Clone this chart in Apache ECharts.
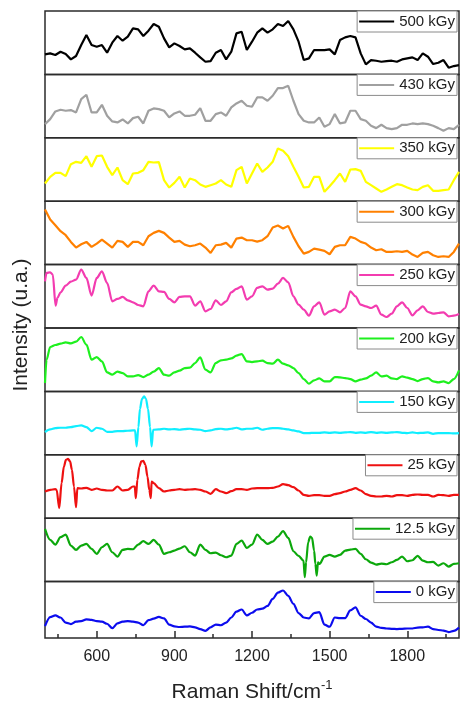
<!DOCTYPE html>
<html>
<head>
<meta charset="utf-8">
<script src="https://cdn.jsdelivr.net/npm/echarts@6/dist/echarts.min.js"></script>
<style>
  html, body { margin: 0; padding: 0; background: #fff; }
  #chart { width: 460px; height: 705px; }
</style>
</head>
<body>
<div id="chart"></div>
<script>
// Raman shift grid (cm-1)
const shift = [400,420,440,460,480,500,520,540,560,580,600,620,640,660,680,700,720,740,760,780,800,820,840,860,880,900,920,940,960,980,1000,1020,1040,1060,1080,1100,1120,1140,1160,1180,1200,1220,1240,1260,1280,1300,1320,1340,1360,1380,1400,1420,1440,1460,1480,1500,1520,1540,1560,1580,1600,1620,1640,1660,1680,1700,1720,1740,1760,1780,1800,1820,1840,1860,1880,1900,1920,1940,1960,1980,2000];

const labels = ['500 kGy', '430 kGy', '350 kGy', '300 kGy', '250 kGy', '200 kGy', '150 kGy', '25 kGy', '12.5 kGy', '0 kGy'];
const colors = ['#000000', '#a0a0a0', '#ffff00', '#ff8000', '#f33cb0', '#1ef01e', '#10eeff', '#ee1111', '#0ca80c', '#0c0cee'];

// intensities (arbitrary units, 0..190 per panel)
const s500 = [60,63,58,68,61,45,55,88,118,88,83,88,65,95,115,101,113,138,135,115,131,151,143,108,81,93,85,75,78,65,51,38,40,65,73,45,68,123,128,73,98,125,138,125,135,151,145,160,135,98,43,48,73,73,73,75,60,103,111,115,111,63,30,43,41,38,40,41,38,45,48,51,43,63,53,31,35,43,20,25,28];
const s430 = [41,56,79,84,81,83,76,116,129,76,76,99,66,49,46,55,43,59,63,43,81,88,86,81,61,73,79,66,66,69,89,51,51,71,76,66,91,103,111,96,93,121,121,111,126,149,149,156,111,71,51,46,46,61,33,41,71,43,46,81,81,56,51,36,29,39,29,26,29,39,39,43,41,43,41,36,29,21,29,26,39];
const s350 = [53,73,85,85,75,111,118,115,135,103,135,137,103,78,101,63,51,83,85,93,118,116,117,63,41,55,73,41,68,63,50,43,48,53,63,50,43,93,103,53,83,113,88,101,118,158,151,135,103,73,41,43,73,73,28,45,63,83,58,95,96,91,58,48,38,28,35,43,51,48,41,35,33,43,48,31,31,33,35,63,88];
const s300 = [165,135,118,100,88,68,51,61,68,53,63,75,63,51,71,68,53,68,68,58,85,95,101,95,81,68,71,60,55,58,63,51,35,58,60,65,51,78,81,73,73,69,73,85,111,117,108,116,83,55,33,38,48,45,41,31,53,58,58,83,78,68,63,51,43,46,38,38,40,38,41,30,23,35,38,28,23,25,23,38,63];
const s250 = [140,167,70,107,127,139,145,175,150,97,150,170,135,80,87,93,83,77,69,65,110,127,110,108,87,77,93,95,95,67,80,50,57,83,69,80,107,117,125,85,95,120,125,115,118,133,150,137,95,70,55,37,65,77,40,50,55,47,60,110,95,70,65,60,67,40,33,43,65,77,60,38,53,65,48,43,45,47,35,37,42];
const s200 = [25,133,139,143,147,144,149,163,140,95,103,90,57,50,59,55,45,45,49,43,50,59,70,50,47,57,62,70,71,85,102,65,57,85,93,95,99,107,112,90,88,90,92,85,83,95,83,78,70,55,37,23,33,39,30,30,43,42,40,37,30,35,39,47,57,45,47,39,37,45,41,37,31,37,40,30,27,30,25,37,63];
const s150 = [68,76,80,81,81,83,86,88,83,71,81,78,69,69,71,71,72,73,73,73,73,75,76,78,76,77,75,77,78,76,75,71,73,77,78,76,78,81,76,78,78,81,75,78,80,80,78,76,73,70,65,65,66,66,67,66,67,66,67,68,66,67,66,68,66,67,66,67,68,66,65,67,65,66,67,63,65,65,65,64,65];
const s25 = [80,85,87,85,85,85,85,89,91,85,89,85,83,83,95,83,85,95,90,90,90,105,90,80,83,85,87,85,86,87,85,80,73,87,80,75,81,87,87,85,89,90,90,90,91,95,102,99,93,83,70,67,69,69,67,67,72,75,80,85,90,83,72,67,65,65,67,65,69,69,67,70,71,70,70,65,70,69,67,70,70];
const s12 = [158,125,111,133,141,108,95,108,113,98,83,103,113,88,75,95,98,97,111,121,113,125,111,83,88,93,99,106,88,78,111,95,85,87,79,73,78,113,123,101,111,141,125,113,120,135,151,131,91,77,63,63,63,63,75,80,75,80,93,96,98,83,67,57,51,54,52,58,65,75,61,64,77,63,58,59,48,55,45,53,55];
const s0 = [40,70,76,69,52,47,55,57,63,61,57,55,48,33,49,55,57,55,52,43,60,65,71,66,45,39,37,38,39,36,30,24,36,45,43,52,69,89,96,76,85,96,99,108,132,153,160,142,115,84,69,66,84,87,45,38,69,67,67,93,103,75,64,52,38,34,32,31,30,31,32,32,35,36,38,30,27,25,20,24,35];

// sharp features sampled more densely: [shift, intensity]
const dip250 = [[406,165],[420,167],[430,160],[441,67],[448,90]];
const rise200 = [[406,95]];
const spike150 = [[748,73],[754,25],[761,83],[767,138],[775,168],[783,175],[790,168],[798,138],[806,83],[812,25],[818,75]];
const spike25a = [[445,85],[455,30],[464,105],[473,155],[481,175],[489,178],[497,170],[504,145],[512,95],[520,33],[525,90]];
const spike25b = [[747,95],[751,60],[757,115],[765,155],[772,170],[780,172],[788,160],[796,125],[803,85],[809,60],[812,110]];
const spike12 = [[1399,63],[1404,13],[1409,58],[1417,118],[1425,135],[1432,131],[1440,93],[1445,53],[1450,18],[1455,58],[1461,53]];

const majorTicks = [600, 900, 1200, 1500, 1800];
const minorTicks = [450, 750, 1050, 1350, 1650, 1950];

function build(values, inserts) {
  let d = shift.map((x, i) => [x, values[i]]);
  (inserts || []).forEach(ins => {
    const lo = ins[0][0], hi = ins[ins.length - 1][0];
    d = d.filter(p => p[0] < lo || p[0] > hi).concat(ins);
  });
  return d.sort((a, b) => a[0] - b[0]);
}

const panels = [
  { v: s500 }, { v: s430 }, { v: s350 }, { v: s300 },
  { v: s250, ins: [dip250], smooth: true },
  { v: s200, ins: [rise200], smooth: true },
  { v: s150, ins: [spike150], smooth: true },
  { v: s25, ins: [spike25a, spike25b], smooth: true },
  { v: s12, ins: [spike12], smooth: true },
  { v: s0, smooth: true }
];

const FONT = 'Liberation Sans, Arial, Helvetica, sans-serif';
const TOP = 11, PH = 63.4, LEFT = 45, RIGHT = 1;
const frame = '#2b2b2b';

const grids = [], xAxes = [], yAxes = [], series = [], legends = [];
panels.forEach((p, i) => {
  const top = TOP + i * PH;
  const last = i === panels.length - 1;
  grids.push({ left: LEFT, right: RIGHT, top: top, height: PH, show: true, borderColor: frame, borderWidth: 1.5 });
  xAxes.push({
    gridIndex: i, type: 'value', min: 400, max: 2000,
    axisLine: { show: false },
    splitLine: { show: false },
    axisTick: last ? { show: true, inside: true, length: 7, customValues: majorTicks, lineStyle: { color: frame, width: 1.5 } } : { show: false },
    axisLabel: last ? { show: true, customValues: majorTicks, formatter: v => String(v), fontSize: 16, color: '#222', fontFamily: FONT, margin: 11 } : { show: false },
    name: last ? '{a|Raman Shift/cm}{s|-1}' : '',
    nameLocation: 'middle',
    nameGap: 41,
    nameTextStyle: {
      rich: {
        a: { fontSize: 21, fontFamily: FONT, color: '#222', lineHeight: 26 },
        s: { fontSize: 13, fontFamily: FONT, color: '#222', verticalAlign: 'top', lineHeight: 26, padding: [0, 0, 12, 0] }
      }
    }
  });
  yAxes.push({ gridIndex: i, type: 'value', min: 0, max: 190, show: false });
  series.push({
    name: labels[i], type: 'line', xAxisIndex: i, yAxisIndex: i,
    data: build(p.v, p.ins), showSymbol: false,
    smooth: p.smooth ? 0.3 : false, smoothMonotone: 'x',
    lineStyle: { color: colors[i], width: 2.2 }, itemStyle: { color: colors[i] },
    clip: true
  });
  legends.push({
    data: [labels[i]], right: 3, top: top, orient: 'horizontal',
    icon: 'rect', itemWidth: 35, itemHeight: 2,
    padding: [3, 2, 3, 2], borderColor: '#8a8a8a', borderWidth: 1, backgroundColor: '#fff',
    textStyle: { fontSize: 15, fontFamily: FONT, color: '#222' },
    selectedMode: false
  });
});

// minor ticks on the bottom axis
xAxes.push({
  gridIndex: panels.length - 1, type: 'value', min: 400, max: 2000, position: 'bottom',
  axisLine: { show: false }, splitLine: { show: false }, axisLabel: { show: false },
  axisTick: { show: true, inside: true, length: 4, customValues: minorTicks, lineStyle: { color: frame, width: 1.5 } }
});

const chart = echarts.init(document.getElementById('chart'), null, { renderer: 'canvas' });
chart.setOption({
  animation: false,
  backgroundColor: '#fff',
  grid: grids, xAxis: xAxes, yAxis: yAxes, series: series, legend: legends,
  graphic: [{
    type: 'text', x: 21, y: 325, rotation: Math.PI / 2,
    style: { text: 'Intensity (u.a.)', fontSize: 21, fontFamily: FONT, fill: '#222', align: 'center', verticalAlign: 'middle' }
  }]
});
</script>
</body>
</html>
